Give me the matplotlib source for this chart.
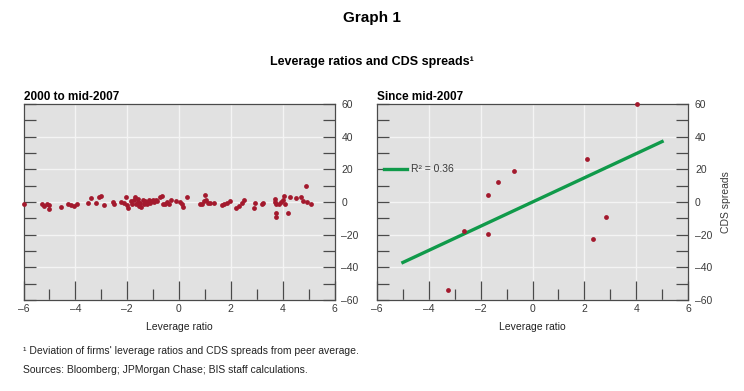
import matplotlib
matplotlib.use("Agg")
import matplotlib.pyplot as plt
from matplotlib.ticker import MultipleLocator, FuncFormatter

plt.rcParams['font.family'] = ['Liberation Sans Narrow', 'Liberation Sans', 'DejaVu Sans']

# 2000 to mid-2007: leverage ratio vs CDS spread deviations
left_x = [-6.0, -5.3, -5.2, -5.1, -5.0, -5.0, -4.55, -4.27, -4.17, -4.05, -3.95,
          -3.5, -3.4, -3.2, -3.1, -3.0, -2.9, -2.55, -2.5, -2.25, -2.12, -2.05,
          -2.0, -1.95, -1.85, -1.8, -1.75, -1.7, -1.65, -1.6, -1.58, -1.55, -1.5,
          -1.45, -1.4, -1.35, -1.3, -1.25, -1.2, -1.15, -1.1, -1.05, -1.0, -0.95,
          -0.9, -0.85, -0.72, -0.67, -0.6, -0.55, -0.45, -0.4, -0.3, -0.1, 0.05,
          0.1, 0.15, 0.3, 0.8, 0.9, 0.95, 1.0, 1.05, 1.1, 1.2, 1.35, 1.65, 1.75,
          1.85, 1.95, 2.2, 2.3, 2.45, 2.5, 2.9, 2.95, 3.2, 3.25, 3.7, 3.72, 3.75,
          3.75, 3.75, 3.85, 3.95, 4.0, 4.05, 4.1, 4.2, 4.3, 4.5, 4.7, 4.8, 4.9,
          4.95, 5.1]
left_y = [-1.5, -1.5, -2.5, -1, -4.5, -2, -3, -1, -2, -2.5, -1.5,
          -0.5, 2.5, -0.5, 3, 3.5, -2, 0, -1.5, 0, -0.5, 3,
          -2, -3.5, 0.5, -1, 1.5, 3, -1.5, 0, 2, -2.5, -0.5,
          -3, 1, -1, 0.5, -1.5, 0, 1, -0.5, 0.5, 1, 0,
          1.5, 0.5, 3, 3.5, -1.5, -1, 0, -1.5, 1.5, 0.5, 0,
          -1.5, -3, 3, -1.5, -1, 0.5, 4, 1.5, -0.5, -0.5, -0.5, -2, -1.5,
          -0.5, 0.5, -3.5, -2.5, -0.5, 1.5, -3.5, -0.5, -1, -0.5, 0, 2, -1,
          -6.5, -9, -1, 0, 1, 3.5, -1.5, -7, 3, 2.5, 3, 0.5, 10,
          0, -1.5]

# Since mid-2007
right_x = [-3.25, -2.65, -1.71, -1.71, -1.32, -0.72, 2.12, 2.32, 2.84, 4.04]
right_y = [-54, -17.6, 4.1, -19.7, 12, 18.7, 26.5, -22.8, -9.3, 60]

# fitted line
fit_x = [-5, 5]
fit_y = [-37, 37]
r2_label = "R\u00b2 = 0.36"

dot_color = "#a3192d"
line_color = "#109a4a"
panel_bg = "#e1e1e1"
spine_color = "#4a4a4a"
text_color = "#3a3a3a"

fig = plt.figure(figsize=(7.44, 3.91), dpi=100)
ax1 = fig.add_axes([23.5 / 744, 91 / 391, 311 / 744, 196 / 391])
ax2 = fig.add_axes([377 / 744, 91 / 391, 311 / 744, 196 / 391])


def fmt(v, pos):
    return ("\u2013%d" % abs(v)) if v < 0 else "%d" % v


for ax in (ax1, ax2):
    ax.set_facecolor(panel_bg)
    ax.set_xlim(-6, 6)
    ax.set_ylim(-60, 60)
    ax.xaxis.set_major_locator(MultipleLocator(2))
    ax.xaxis.set_minor_locator(MultipleLocator(1))
    ax.yaxis.set_major_locator(MultipleLocator(20))
    ax.yaxis.set_minor_locator(MultipleLocator(10))
    ax.xaxis.set_major_formatter(FuncFormatter(fmt))
    ax.yaxis.set_major_formatter(FuncFormatter(fmt))
    ax.grid(True, which='major', color='#f4f4f4', lw=1.0)
    ax.set_axisbelow(True)
    for s in ax.spines.values():
        s.set_color(spine_color)
        s.set_linewidth(0.9)
    ax.tick_params(axis='x', which='major', direction='in', length=14, width=0.9,
                   color=spine_color, labelsize=7.5, pad=3, labelcolor=text_color)
    ax.tick_params(axis='x', which='minor', direction='in', length=8, width=0.9,
                   color=spine_color)
    ax.tick_params(axis='y', which='both', direction='in', length=8.5, width=0.9,
                   color=spine_color, left=True, right=True,
                   labelleft=False, labelright=True, labelsize=7.5, pad=5,
                   labelcolor=text_color)
    ax.set_xlabel("Leverage ratio", fontsize=7.5, color='#222222', labelpad=6)

ax1.scatter(left_x, left_y, s=12, color=dot_color, linewidths=0, zorder=3,
            clip_on=False)
ax1.set_title("2000 to mid-2007", loc='left', fontsize=8.5, fontweight='bold',
              family=['Liberation Sans', 'DejaVu Sans'], pad=3)

ax2.scatter(right_x, right_y, s=12, color=dot_color, linewidths=0, zorder=3,
            clip_on=False)
ax2.plot(fit_x, fit_y, color=line_color, lw=2.4, label=r2_label, zorder=2)
ax2.legend(loc='center left', bbox_to_anchor=(0.0, 0.667), frameon=False,
           handlelength=2.2, handletextpad=0.4, fontsize=7.5, borderaxespad=0.3,
           labelcolor=text_color)
ax2.set_title("Since mid-2007", loc='left', fontsize=8.5, fontweight='bold',
              family=['Liberation Sans', 'DejaVu Sans'], pad=3)
ax2.yaxis.set_label_position('right')
ax2.set_ylabel("CDS spreads", fontsize=7.5, color=text_color, labelpad=6)

fig.text(0.5, 1 - 18 / 391, "Graph 1", ha='center', va='center', fontsize=11,
         fontweight='bold', family=['Liberation Sans', 'DejaVu Sans'])
fig.text(0.5, 1 - 62 / 391, "Leverage ratios and CDS spreads\u00b9", ha='center',
         va='center', fontsize=9, fontweight='bold',
         family=['Liberation Sans', 'DejaVu Sans'])
fig.text(23 / 744, 1 - 351 / 391,
         "\u00b9 Deviation of firms' leverage ratios and CDS spreads from peer average.",
         ha='left', va='center', fontsize=7.5, color='#222222')
fig.text(23 / 744, 1 - 370 / 391,
         "Sources: Bloomberg; JPMorgan Chase; BIS staff calculations.",
         ha='left', va='center', fontsize=7.5, color='#222222')

fig.savefig("out.png", dpi=100)
